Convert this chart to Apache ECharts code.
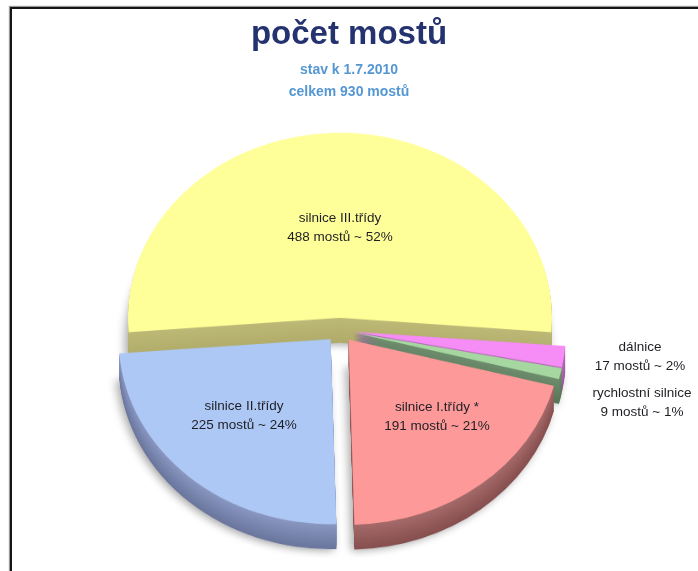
<!DOCTYPE html>
<html>
<head>
<meta charset="utf-8">
<script src="https://cdn.jsdelivr.net/npm/echarts@6.0.0/dist/echarts.min.js"></script>
<style>
html, body { margin: 0; padding: 0; background: #ffffff; overflow: hidden; width: 698px; height: 571px; }
#frame { position: absolute; left: 10px; top: 7px; width: 720px; height: 600px; border-left: 2px solid #151515; border-top: 2px solid #151515; box-shadow: -1px -1px 1px #999; }
#pie { position: absolute; left: 0; top: 0; width: 698px; height: 640px; transform: scaleY(0.873); transform-origin: 0 330px; }
#ov { position: absolute; left: 0; top: 0; width: 698px; height: 571px; }
</style>
</head>
<body>
<div id="frame"></div>
<div id="pie"></div>
<div id="ov"></div>
<script>
// ---- data ----
const categories = ['silnice III.třídy', 'dálnice', 'rychlostní silnice', 'silnice I.třídy *', 'silnice II.třídy'];
const bridgeCounts = [488, 17, 9, 191, 225];
const titleText = 'počet mostů';
const subtitleLines = ['stav k 1.7.2010', 'celkem 930 mostů'];
const unitText = 'mostů';

// ---- styling ----
const topColors = ['#ffff99', '#f68cf6', '#a7d7a1', '#fd9a99', '#aec8f6'];
const sideTop = ['#bdb977', '#b86fb8', '#6e8e6e', '#a66b6b', '#8a98c2'];
const sideBottom = ['#b0ab69', '#9a579a', '#587458', '#874f4f', '#6a769d'];
const labelPos = [[340, 228], [640, 357], [642, 403], [437, 417], [244, 416]];

function hasFont(name) {
  const c = document.createElement('canvas').getContext('2d');
  const s = 'abcdefghijklmnopqrstuvwxyz0123456789 ABCDEFGH';
  let r = false;
  ['monospace', 'serif'].forEach(fb => {
    c.font = '40px ' + fb; const w1 = c.measureText(s).width;
    c.font = "40px '" + name + "', " + fb; const w2 = c.measureText(s).width;
    if (Math.abs(w1 - w2) > 0.5) r = true;
  });
  return r;
}
const narrow = hasFont('Liberation Sans Narrow') ? 'Liberation Sans Narrow' : (hasFont('Arial Narrow') ? 'Arial Narrow' : null);
const labelFont = narrow ? ("16px '" + narrow + "'") : "13.5px 'Liberation Sans'";
const subFamily = narrow || 'Liberation Sans';
const subSize = narrow ? 17 : 14;

function hex(c) { return [1, 3, 5].map(i => parseInt(c.substr(i, 2), 16)); }
function mix(a, b, t) {
  const pa = hex(a), pb = hex(b);
  return 'rgb(' + pa.map((v, i) => Math.round(v + (pb[i] - v) * t)).join(',') + ')';
}

const total = bridgeCounts.reduce((a, b) => a + b, 0);
const K = 0.873, CX = 340, CY = 330, R = 212, THICK = 25 / K, EXPLODE = 14;
const startAngle = 90 + 180 * bridgeCounts[0] / total;

function makePie(center, colors, extra) {
  return Object.assign({
    type: 'pie',
    center: center,
    radius: [0, R],
    startAngle: startAngle,
    clockwise: true,
    selectedMode: 'multiple',
    selectedOffset: EXPLODE,
    silent: true,
    animation: false,
    avoidLabelOverlap: false,
    label: { show: false },
    labelLine: { show: false },
    emphasis: { disabled: true },
    data: categories.map((n, i) => ({
      name: n, value: bridgeCounts[i], selected: true,
      itemStyle: Object.assign({ color: colors[i], borderWidth: 0 }, (extra && extra.item) || {})
    }))
  }, (extra && extra.series) || {});
}

const series = [];
const LAYERS = 22;
for (let i = LAYERS; i >= 1; i--) {
  const t = i / LAYERS;
  const cols = sideTop.map((c, k) => mix(c, sideBottom[k], t));
  const extra = i === LAYERS ? { item: { shadowBlur: 10, shadowColor: 'rgba(0,0,0,0.35)', shadowOffsetX: -3, shadowOffsetY: 2 } } : null;
  series.push(makePie([CX, CY + THICK * t], cols, extra));
}
series.push(makePie([CX, CY], topColors));

const pieChart = echarts.init(document.getElementById('pie'), null, { renderer: 'canvas' });
pieChart.setOption({ backgroundColor: 'transparent', animation: false, series: series });

// ---- overlay: titles and labels ----
const graphics = categories.map((n, i) => ({
  type: 'text',
  x: labelPos[i][0],
  y: labelPos[i][1],
  silent: true,
  style: {
    text: n + '\n' + bridgeCounts[i] + ' ' + unitText + ' ~ ' + Math.round(100 * bridgeCounts[i] / total) + '%',
    fill: '#1e1e24',
    font: labelFont,
    align: 'center',
    verticalAlign: 'middle',
    textAlign: 'center',
    textVerticalAlign: 'middle',
    lineHeight: 19
  }
}));

const ov = echarts.init(document.getElementById('ov'), null, { renderer: 'canvas' });
ov.setOption({
  backgroundColor: 'transparent',
  animation: false,
  title: [
    { text: titleText, left: 'center', top: 13,
      textStyle: { fontFamily: 'Liberation Sans', fontWeight: 'bold', fontSize: 33, color: '#243370' } },
    { text: subtitleLines.join('\n'), left: 'center', top: 54,
      textStyle: { fontFamily: subFamily, fontWeight: 'bold', fontSize: subSize, lineHeight: 22, color: '#5597d3', align: 'center' } }
  ],
  graphic: graphics
});
</script>
</body>
</html>
